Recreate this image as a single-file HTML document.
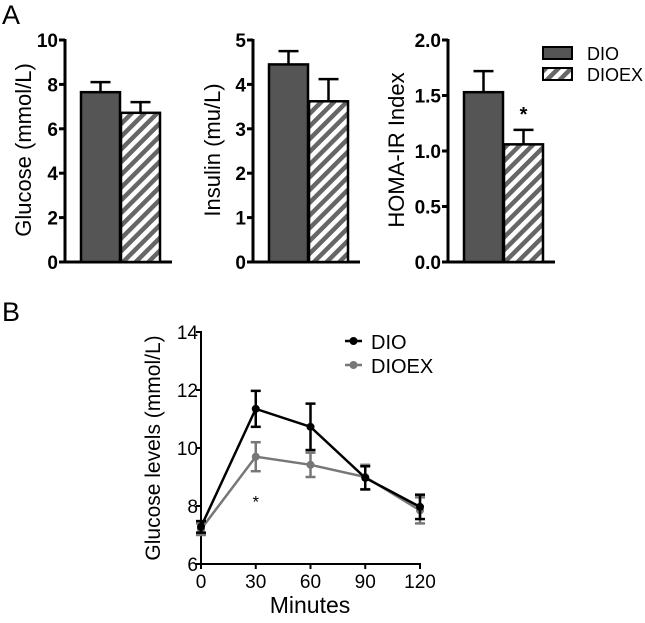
<!DOCTYPE html>
<html><head><meta charset="utf-8"><style>
body{margin:0;background:#fff;font-family:"Liberation Sans",Arial,sans-serif}
svg text{font-family:"Liberation Sans",Arial,sans-serif}
</style></head><body>
<svg id="fig" width="645" height="618" xmlns="http://www.w3.org/2000/svg">
<defs><pattern id="hatch" patternUnits="userSpaceOnUse" width="9" height="9" patternTransform="rotate(45)">
<rect width="9" height="9" fill="#fff"/><rect width="4.5" height="9" fill="#666"/></pattern></defs>
<text x="2" y="24" font-size="27">A</text>
<text x="2" y="321" font-size="27">B</text>
<g id="barsA"></g><g id="lineB"></g>
</svg>
<script>
const NS="http://www.w3.org/2000/svg";
function mk(p,t,a){const e=document.createElementNS(NS,t);for(const k in a)e.setAttribute(k,a[k]);p.appendChild(e);return e;}
// Panel A data
const barTitles=["Glucose (mmol/L)","Insulin (mu/L)","HOMA-IR Index"];
const barMax=[10,5,2];
const barTicks=[["0","2","4","6","8","10"],["0","1","2","3","4","5"],["0.0","0.5","1.0","1.5","2.0"]];
const dioValues=[7.65,4.45,1.53];
const dioErrors=[0.45,0.3,0.19];
const dioexValues=[6.72,3.62,1.06];
const dioexErrors=[0.48,0.5,0.13];
const barStars=[false,false,true];
const axisX=[65,253,448];
const titleOff=[42,41,52];
const gA=document.getElementById('barsA');
for(let i=0;i<3;i++){
  const ax=axisX[i],top=40,bot=262;
  const y=v=>bot-(v/barMax[i])*(bot-top);
  const g=mk(gA,'g',{});
  
  
  mk(g,'line',{x1:ax,y1:top-1,x2:ax,y2:bot,stroke:'#000','stroke-width':3});
  mk(g,'line',{x1:ax,y1:bot,x2:ax+107,y2:bot,stroke:'#000','stroke-width':3});
  const tk=barTicks[i];
  tk.forEach((t,j)=>{const v=parseFloat(t);const yy=y(v);
    mk(g,'line',{x1:ax-6,y1:yy,x2:ax,y2:yy,stroke:'#000','stroke-width':3});
    const tx=mk(g,'text',{x:ax-7,y:yy+7,'font-size':19,'font-weight':'bold','text-anchor':'end'});tx.textContent=t;
    
    });
  const lab=mk(g,'text',{x:0,y:0,'font-size':22,'text-anchor':'middle',transform:`translate(${ax-titleOff[i]+8},150) rotate(-90)`});
  lab.textContent=barTitles[i];
  
  
  const bw=39;
  [[dioValues[i],dioErrors[i],ax+16,'#555'],[dioexValues[i],dioexErrors[i],ax+16+bw+1,'url(#hatch)']].forEach((b,k)=>{
    const yt=y(b[0]),ye=y(b[0]+b[1]);const cx=b[2]+bw/2;
    mk(g,'line',{x1:cx,y1:yt,x2:cx,y2:ye,stroke:'#000','stroke-width':2.5});
    mk(g,'line',{x1:cx-10,y1:ye,x2:cx+10,y2:ye,stroke:'#000','stroke-width':2.5});
    const r=mk(g,'rect',{x:b[2],y:yt,width:bw,height:bot-yt,fill:b[3],stroke:'#000','stroke-width':2.5});
    
    
  });
  if(barStars[i]){const s=mk(g,'text',{x:ax+16+bw+1+bw/2,y:y(dioexValues[i]+dioexErrors[i])-9,'font-size':20,'font-weight':'bold','text-anchor':'middle'});s.textContent='*';
    
    }
}
// legend A
[['DIO','#555',47],['DIOEX','url(#hatch)',68]].forEach(l=>{
  const r=mk(gA,'rect',{x:543,y:l[2],width:29,height:12,fill:l[1],stroke:'#000','stroke-width':2});
  
  
  const t=mk(gA,'text',{x:587,y:l[2]+13,'font-size':18});t.textContent=l[0];
  
  
});
// Panel B data
const minutes=[0,30,60,90,120];
const yTicksB=[6,8,10,12,14];
const dioGlucose=[7.28,11.35,10.73,8.97,7.97];
const dioGlucoseErr=[0.2,0.62,0.8,0.4,0.42];
const dioexGlucose=[7.2,9.7,9.42,9.0,7.85];
const dioexGlucoseErr=[0.2,0.5,0.42,0.42,0.45];
const gB=document.getElementById('lineB');
const X=m=>201+m/120*(420-201);
const Y=v=>564-(v-6)/8*(564-332);
mk(gB,'line',{x1:201,y1:331,x2:201,y2:564,stroke:'#000','stroke-width':2});
mk(gB,'line',{x1:201,y1:564,x2:421,y2:564,stroke:'#000','stroke-width':2});
yTicksB.forEach(v=>{mk(gB,'line',{x1:196,y1:Y(v),x2:201,y2:Y(v),stroke:'#000','stroke-width':2});
  const t=mk(gB,'text',{x:198,y:Y(v)+7,'font-size':19,'text-anchor':'end'});t.textContent=v;
  
  });
minutes.forEach(m=>{mk(gB,'line',{x1:X(m),y1:564,x2:X(m),y2:569,stroke:'#000','stroke-width':2});
  const t=mk(gB,'text',{x:X(m),y:588,'font-size':19,'text-anchor':'middle'});t.textContent=m;
  
  });
const yl=mk(gB,'text',{x:0,y:0,'font-size':21,'text-anchor':'middle',transform:'translate(160,448) rotate(-90)'});yl.textContent='Glucose levels (mmol/L)';


const xl=mk(gB,'text',{x:310,y:613,'font-size':23,'text-anchor':'middle'});xl.textContent='Minutes';


[[dioexGlucose,dioexGlucoseErr,'#777','series-dioex'],[dioGlucose,dioGlucoseErr,'#000','series-dio']].forEach(s=>{
  const g=mk(gB,'g',{});
  
  
  mk(g,'polyline',{points:minutes.map((m,i)=>X(m)+','+Y(s[0][i])).join(' '),fill:'none',stroke:s[2],'stroke-width':2.5});
  minutes.forEach((m,i)=>{const x=X(m),a=Y(s[0][i]+s[1][i]),b=Y(s[0][i]-s[1][i]);
    mk(g,'line',{x1:x,y1:a,x2:x,y2:b,stroke:s[2],'stroke-width':2.5});
    mk(g,'line',{x1:x-5,y1:a,x2:x+5,y2:a,stroke:s[2],'stroke-width':2.5});
    mk(g,'line',{x1:x-5,y1:b,x2:x+5,y2:b,stroke:s[2],'stroke-width':2.5});
    const c=mk(g,'circle',{cx:x,cy:Y(s[0][i]),r:4,fill:s[2]});
    
    });
});
const st=mk(gB,'text',{x:X(30),y:Y(7.95),'font-size':17,'text-anchor':'middle'});st.textContent='*';


[['DIO','#000',341],['DIOEX','#777',365]].forEach(l=>{
  mk(gB,'line',{x1:345,y1:l[2],x2:362,y2:l[2],stroke:l[1],'stroke-width':2.5});
  mk(gB,'circle',{cx:353.5,cy:l[2],r:4,fill:l[1]});
  const t=mk(gB,'text',{x:371,y:l[2]+8,'font-size':20});t.textContent=l[0];
  
  
});
</script>
</body></html>
